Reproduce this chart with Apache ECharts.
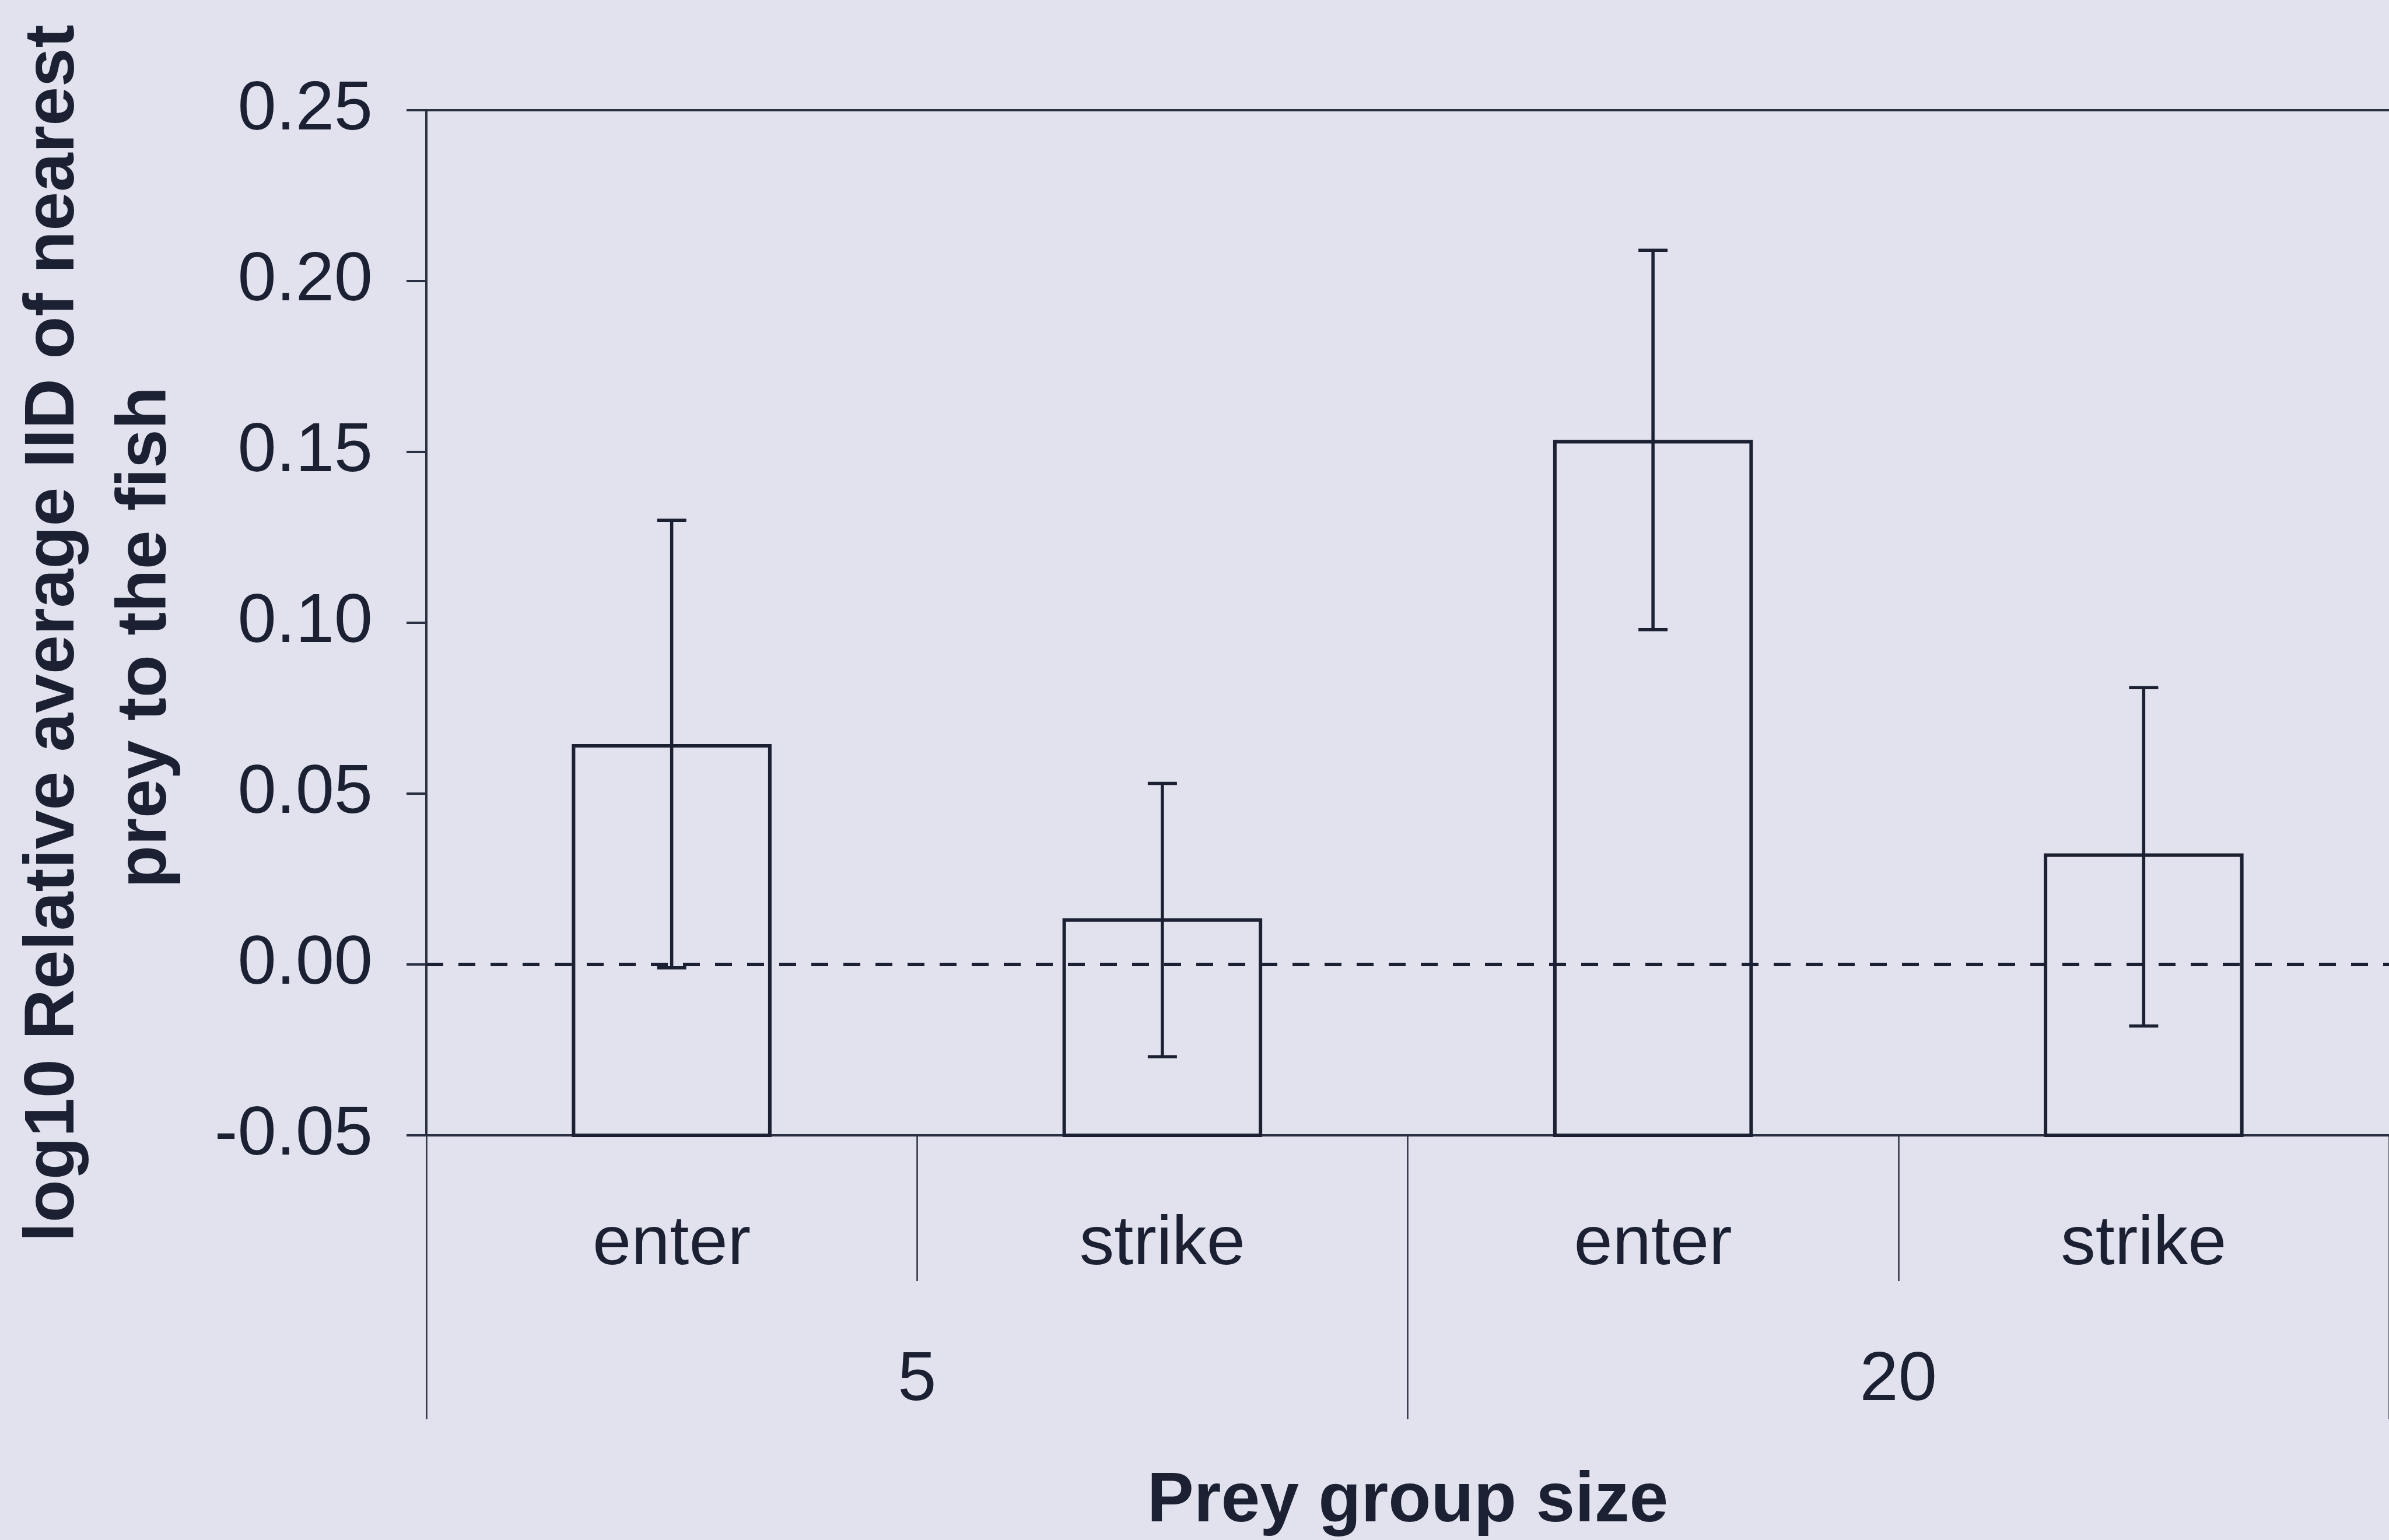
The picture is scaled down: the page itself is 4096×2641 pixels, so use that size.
<!DOCTYPE html>
<html>
<head>
<meta charset="utf-8">
<script src="https://cdn.jsdelivr.net/npm/echarts@6/dist/echarts.min.js"></script>
<style>
html,body{margin:0;padding:0;background:#e2e2ee;}
#chart{width:4096px;height:2641px;}
</style>
</head>
<body>
<div id="chart"></div>
<script>
// ---- data ----
const conditions = ['enter', 'strike', 'enter', 'strike'];
const groupSizes = ['5', '20'];
const meanValues = [0.064, 0.013, 0.153, 0.032];
const upperValues = [0.130, 0.053, 0.209, 0.081];
const lowerValues = [-0.001, -0.027, 0.098, -0.018];
const yMin = -0.05;
const yMax = 0.25;
const yStep = 0.05;
const yTitleLines = ['log10 Relative average IID of nearest', 'prey to the fish'];
const xTitle = 'Prey group size';

// ---- styles ----
const FONT = '"Liberation Sans", Arial, sans-serif';
const INK = '#1b2132';
const AXIS = '#2a3042';

const barData = conditions.map((c, i) => [i, meanValues[i], lowerValues[i], upperValues[i]]);

const chart = echarts.init(document.getElementById('chart'), null, {renderer: 'canvas'});

chart.setOption({
  backgroundColor: '#e2e2ee',
  animation: false,
  grid: {left: 731, width: 3383, top: 189, height: 1760, containLabel: false},
  xAxis: [
    {
      type: 'category', data: conditions, position: 'bottom', boundaryGap: true,
      axisLine: {show: true, onZero: false, lineStyle: {color: AXIS, width: 4}},
      axisTick: {show: true, inside: false, length: 250, interval: 0, lineStyle: {color: AXIS, width: 2.5}},
      axisLabel: {show: true, interval: 0, margin: 129, fontSize: 119, fontFamily: FONT, color: INK},
      splitLine: {show: false}
    },
    {
      type: 'category', data: groupSizes, position: 'bottom', boundaryGap: true,
      axisLine: {show: false, onZero: false},
      axisTick: {show: true, inside: false, length: 487, interval: 0, lineStyle: {color: AXIS, width: 2.5}},
      axisLabel: {show: true, interval: 0, margin: 362, fontSize: 119, fontFamily: FONT, color: INK},
      splitLine: {show: false},
      name: xTitle, nameLocation: 'middle', nameGap: 569,
      nameTextStyle: {fontSize: 120, fontWeight: 'bold', fontFamily: FONT, color: INK}
    },
    {
      type: 'category', data: conditions, position: 'top',
      axisLine: {show: true, onZero: false, lineStyle: {color: AXIS, width: 4}},
      axisTick: {show: false}, axisLabel: {show: false}, splitLine: {show: false}
    }
  ],
  yAxis: {
    type: 'value', min: yMin, max: yMax, interval: yStep,
    axisLine: {show: true, onZero: false, lineStyle: {color: AXIS, width: 4}},
    axisTick: {show: true, inside: false, length: 34, lineStyle: {color: AXIS, width: 4}},
    axisLabel: {margin: 92, fontSize: 119, fontFamily: FONT, color: INK,
      formatter: v => v.toFixed(2)},
    splitLine: {show: false}
  },
  series: [{
    type: 'custom',
    xAxisIndex: 0,
    yAxisIndex: 0,
    data: barData,
    encode: {x: 0, y: [1, 2, 3]},
    clip: false,
    renderItem: function (params, api) {
      const x = api.value(0);
      const base = api.coord([x, yMin]);
      const top = api.coord([x, api.value(1)]);
      const lo = api.coord([x, api.value(2)]);
      const hi = api.coord([x, api.value(3)]);
      const w = api.size([1, 0])[0] * 0.4;
      const cap = 25;
      const ls = {stroke: INK, lineWidth: 5.5};
      return {
        type: 'group',
        children: [
          {type: 'rect', shape: {x: base[0] - w / 2, y: top[1], width: w, height: base[1] - top[1]},
            style: {fill: 'rgba(0,0,0,0)', stroke: INK, lineWidth: 6}},
          {type: 'line', shape: {x1: hi[0], y1: hi[1], x2: lo[0], y2: lo[1]}, style: ls},
          {type: 'line', shape: {x1: hi[0] - cap, y1: hi[1], x2: hi[0] + cap, y2: hi[1]}, style: ls},
          {type: 'line', shape: {x1: lo[0] - cap, y1: lo[1], x2: lo[0] + cap, y2: lo[1]}, style: ls}
        ]
      };
    },
    markLine: {
      silent: true,
      symbol: ['none', 'none'],
      label: {show: false},
      lineStyle: {color: INK, width: 6, type: [29, 26]},
      data: [{yAxis: 0}]
    }
  }],
  graphic: [
    {type: 'text', x: 93, y: 1086, rotation: Math.PI / 2,
      style: {text: yTitleLines[0], fontSize: 120, fontWeight: 'bold', fontFamily: FONT, fill: INK,
        align: 'center', verticalAlign: 'middle', textAlign: 'center', textVerticalAlign: 'middle'}},
    {type: 'text', x: 251, y: 1093, rotation: Math.PI / 2,
      style: {text: yTitleLines[1], fontSize: 120, fontWeight: 'bold', fontFamily: FONT, fill: INK,
        align: 'center', verticalAlign: 'middle', textAlign: 'center', textVerticalAlign: 'middle'}}
  ]
});
</script>
</body>
</html>
